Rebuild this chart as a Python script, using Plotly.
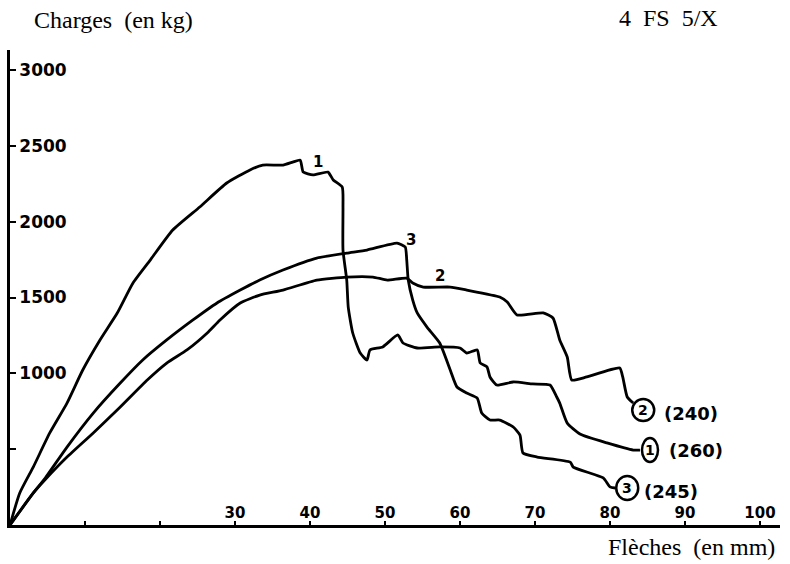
import plotly.graph_objects as go

# Load (kg) versus deflection (mm) for three test pieces
c1_x = [0, 1.3, 3.1, 5.3, 7.6, 9.7, 12.0, 14.3, 16.4, 18.7, 21.7, 25.3, 28.9, 32.0, 33.7, 36.4,
        37.7, 38.7, 39.1, 40.4, 42.4, 43.1, 44.3, 44.4, 44.4, 44.9, 45.1, 45.7, 46.7, 47.6,
        48.0, 49.7, 51.7, 52.4, 54.3, 57.3, 60.0, 60.9, 62.3, 62.7, 63.6, 64.0, 64.9, 67.1,
        69.7, 72.0, 72.9, 73.3, 74.3, 76.0, 79.6, 83.1, 84.0]
c1_y = [0, 211, 382, 607, 804, 1022, 1220, 1398, 1596, 1747, 1945, 2097, 2255, 2341, 2373, 2373,
        2393, 2406, 2327, 2308, 2327, 2275, 2228, 2097, 1813, 1615, 1437, 1266, 1134, 1088,
        1154, 1174, 1253, 1200, 1167, 1174, 1167, 1134, 1154, 1068, 1042, 976, 923, 943,
        930, 923, 844, 804, 672, 600, 541, 494, 494]

c2_x = [0, 3.1, 4.7, 7.6, 11.1, 14.7, 18.3, 20.9, 23.6, 26.3, 28.0, 30.7, 33.3, 36.4, 40.9,
        44.9, 48.4, 50.3, 52.9, 53.7, 55.1, 58.7, 60.9, 65.3, 66.3, 67.6, 71.1, 72.4, 73.3,
        74.3, 74.9, 76.9, 81.3, 81.7, 82.3, 83.1]
c2_y = [0, 211, 300, 448, 607, 778, 956, 1068, 1154, 1266, 1352, 1464, 1516, 1549, 1615,
        1635, 1635, 1615, 1628, 1596, 1569, 1569, 1549, 1503, 1470, 1385, 1398, 1365, 1220,
        1108, 956, 976, 1035, 976, 844, 804]

c3_x = [0, 3.1, 4.7, 7.6, 11.1, 14.7, 17.7, 20.9, 24.4, 27.6, 30.7, 33.3, 36.4, 40.9, 44.9,
        47.6, 51.6, 52.7, 52.9, 53.1, 53.7, 54.3, 55.6, 57.3, 58.7, 59.6, 60.9, 62.3, 62.9,
        64.0, 65.3, 67.1, 68.0, 68.4, 70.3, 74.7, 75.1, 79.1, 80.0, 80.7]
c3_y = [0, 211, 310, 514, 738, 936, 1088, 1220, 1352, 1464, 1549, 1615, 1681, 1760, 1793,
        1813, 1859, 1833, 1747, 1615, 1483, 1398, 1305, 1200, 1022, 910, 870, 837, 738,
        692, 692, 646, 593, 475, 448, 415, 382, 310, 251, 244]

curve_names = ["1", "2", "3"]
curve_tags = ["(260)", "(240)", "(245)"]

x_ticks = [10, 20, 30, 40, 50, 60, 70, 80, 90, 100]
x_tick_text = ["", "", "30", "40", "50", "60", "70", "80", "90", "100"]
y_ticks = [500, 1000, 1500, 2000, 2500, 3000]
y_tick_text = ["", "1000", "1500", "2000", "2500", "3000"]

HAND = "DejaVu Sans"
SERIF = "Liberation Serif"

fig = go.Figure()
for xs, ys in [(c1_x, c1_y), (c2_x, c2_y), (c3_x, c3_y)]:
    fig.add_trace(go.Scatter(x=xs, y=ys, mode="lines",
                             line=dict(color="black", width=2.8, shape="spline",
                                       smoothing=0.5),
                             showlegend=False, hoverinfo="skip"))

annotations = []
shapes = []

# numbers written next to each curve's peak
for name, (lx, ly) in zip(curve_names, [(41.1, 2393), (57.3, 1642), (53.5, 1879)]):
    annotations.append(dict(x=lx, y=ly, text=name, showarrow=False,
                            font=dict(family=HAND, size=15, color="black", weight="bold")))

# circled curve number and specimen tag at the end of each curve
ends = [(c1_x[-1], c1_y[-1]), (c2_x[-1], c2_y[-1]), (c3_x[-1], c3_y[-1])]
circle_boxes = [(2, 18, -12, 12), (-1, 21, -18, 4), (1, 23, -12, 12)]
tag_shift = [(27, 0), (29, -10), (27, -4)]
for name, tag, (ex, ey), (x0, x1, y0, y1), (tx, ty) in zip(
        curve_names, curve_tags, ends, circle_boxes, tag_shift):
    shapes.append(dict(type="circle", xref="x", yref="y", xsizemode="pixel",
                       ysizemode="pixel", xanchor=ex, yanchor=ey,
                       x0=x0, x1=x1, y0=y0, y1=y1,
                       line=dict(color="black", width=2.5)))
    annotations.append(dict(x=ex, y=ey, text=name, showarrow=False,
                            xshift=(x0 + x1) / 2, yshift=(y0 + y1) / 2,
                            font=dict(family=HAND, size=14, color="black", weight="bold")))
    annotations.append(dict(x=ex, y=ey, text=tag, showarrow=False, xanchor="left",
                            xshift=tx, yshift=ty,
                            font=dict(family=HAND, size=18, color="black", weight="bold")))

annotations += [
    dict(xref="paper", yref="paper", x=0.0286, y=1.063, xanchor="left", yanchor="middle",
         text="Charges  (en kg)", showarrow=False,
         font=dict(family=SERIF, size=24, color="black")),
    dict(xref="paper", yref="paper", x=0.788, y=1.067, xanchor="left", yanchor="middle",
         text="4  FS  5/X", showarrow=False,
         font=dict(family=SERIF, size=24, color="black")),
    dict(xref="paper", yref="paper", x=0.996, y=-0.046, xanchor="right", yanchor="middle",
         text="Flèches  (en mm)", showarrow=False,
         font=dict(family=SERIF, size=24, color="black")),
]

fig.update_layout(
    width=790, height=564,
    margin=dict(l=10, r=10, t=50, b=39),
    paper_bgcolor="white", plot_bgcolor="white",
    annotations=annotations, shapes=shapes,
    xaxis=dict(range=[0, 102.67], showgrid=False, zeroline=False,
               showline=True, linecolor="black", linewidth=2.5,
               tickmode="array", tickvals=x_ticks, ticktext=x_tick_text,
               ticks="inside", ticklen=4, tickwidth=2, tickcolor="black",
               ticklabelposition="inside",
               tickfont=dict(family=HAND, size=15, color="black", weight="bold")),
    yaxis=dict(range=[0, 3132], showgrid=False, zeroline=False,
               showline=True, linecolor="black", linewidth=2.5,
               tickmode="array", tickvals=y_ticks, ticktext=y_tick_text,
               ticks="inside", ticklen=6, tickwidth=2, tickcolor="black",
               ticklabelposition="inside", ticklabelstandoff=4,
               tickfont=dict(family=HAND, size=17, color="black", weight="bold")),
)

fig.write_html("out.html")
